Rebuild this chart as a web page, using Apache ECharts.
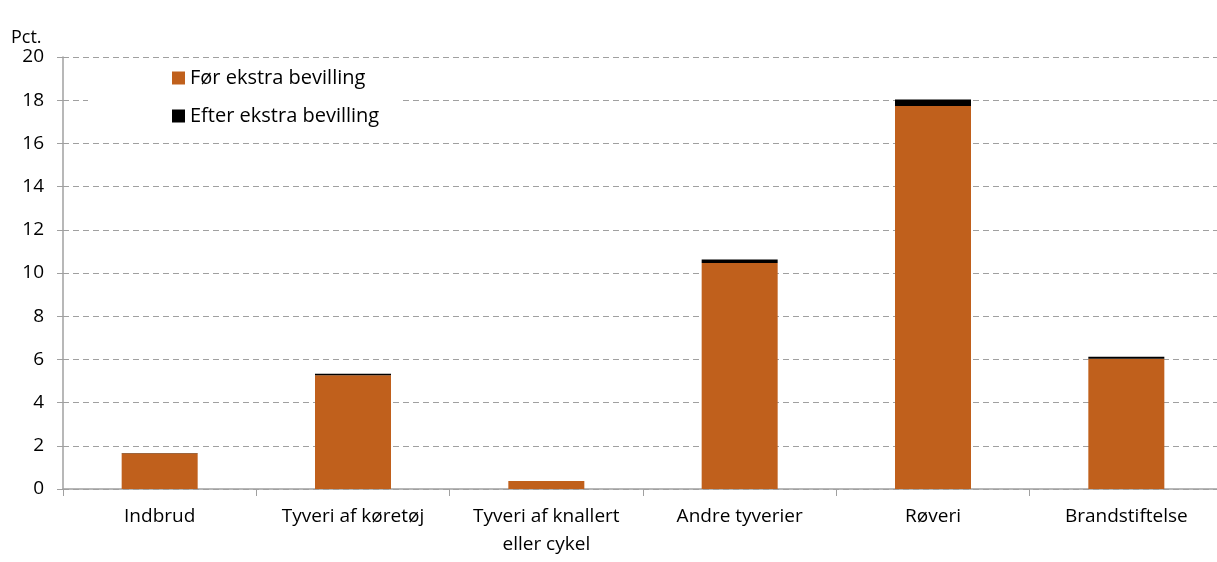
<!DOCTYPE html>
<html>
<head>
<meta charset="utf-8">
<title>Pct.</title>
<script src="https://cdn.jsdelivr.net/npm/echarts@6/dist/echarts.min.js"></script>
<style>
  html, body { margin: 0; padding: 0; background: #fff; }
  #chart { width: 1217px; height: 562px; }
</style>
</head>
<body>
<div id="chart"></div>
<script>
var categories = ['Indbrud', 'Tyveri af køretøj', 'Tyveri af knallert\neller cykel', 'Andre tyverier', 'Røveri', 'Brandstiftelse'];
var foerValues = [1.65, 5.27, 0.37, 10.46, 17.73, 6.03];
var efterValues = [0.02, 0.07, 0.0, 0.16, 0.3, 0.09];
var yTicks = [0, 2, 4, 6, 8, 10, 12, 14, 16, 18, 20];

var font = '"Open Sans", Lato, sans-serif';
var myChart = echarts.init(document.getElementById('chart'));
var option = {
  animation: false,
  title: {
    text: 'Pct.',
    left: 6,
    top: 24,
    textStyle: { fontFamily: font, fontSize: 18, fontWeight: 'normal', color: '#000' }
  },
  legend: {
    data: ['Før ekstra bevilling', 'Efter ekstra bevilling'],
    orient: 'vertical',
    left: 88,
    top: 64,
    padding: [4, 20, 4, 84],
    itemGap: 18,
    itemWidth: 13,
    itemHeight: 13,
    backgroundColor: '#fff',
    icon: 'rect',
    textStyle: { fontFamily: font, fontSize: 20, color: '#000' }
  },
  grid: { left: 63, top: 57, width: 1160, height: 432, outerBoundsMode: 'none' },
  xAxis: {
    type: 'category',
    data: categories,
    axisLine: { lineStyle: { color: '#a0a0a0', width: 1.5 } },
    axisTick: { show: true, interval: 0, length: 7, lineStyle: { color: '#a0a0a0' } },
    axisLabel: { interval: 0, fontFamily: font, fontSize: 19, color: '#000', margin: 14, lineHeight: 28 }
  },
  yAxis: {
    type: 'value',
    min: 0,
    max: 20,
    interval: 2,
    axisLine: { show: true, lineStyle: { color: '#a0a0a0', width: 1.5 } },
    axisTick: { show: true, length: 6, inside: false, lineStyle: { color: '#a0a0a0' } },
    axisLabel: {
      fontFamily: font, fontSize: 19, color: '#000', margin: 19,
      formatter: function (v) { return yTicks.indexOf(v) >= 0 ? String(v) : ''; }
    },
    splitLine: { lineStyle: { color: '#a0a0a0', type: [6, 4], width: 1 } }
  },
  series: [
    {
      name: 'Før ekstra bevilling',
      type: 'bar',
      stack: 'total',
      barWidth: 76,
      itemStyle: { color: '#c0601c' },
      data: foerValues
    },
    {
      name: 'Efter ekstra bevilling',
      type: 'bar',
      stack: 'total',
      barWidth: 76,
      itemStyle: { color: '#000' },
      data: efterValues
    }
  ]
};
myChart.setOption(option);
</script>
</body>
</html>
